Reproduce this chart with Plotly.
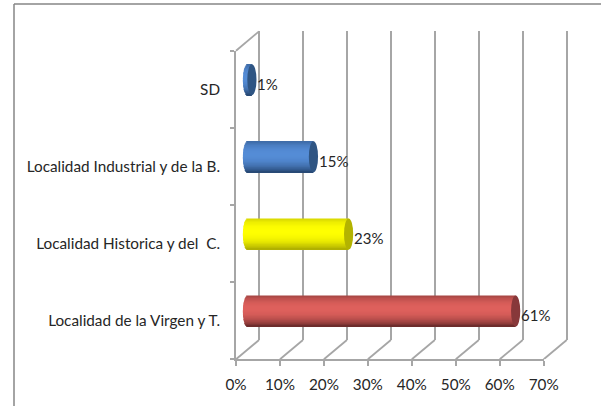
import math
import plotly.graph_objects as go

categories = ["Localidad de la Virgen y T.", "Localidad Historica y del  C.", "Localidad Industrial y de la B.", "SD"]
values = [61, 23, 15, 1]
value_labels = ["61%", "23%", "15%", "1%"]
x_ticks = [0, 10, 20, 30, 40, 50, 60, 70]
x_tick_labels = ["0%", "10%", "20%", "30%", "40%", "50%", "60%", "70%"]
# shade ramps: (dark edge, light centre, cap colour)
bar_styles = [((100, 40, 40), (222, 96, 92), "#87383a"),
              ((170, 170, 0), (255, 255, 0), "#b3b300"),
              ((36, 68, 110), (84, 140, 214), "#2f5583"),
              ((36, 68, 110), (84, 140, 214), "#2f5583")]

W, H = 601, 406
FONT = "Lato"
FS = 15.3
GREY = "#a6a6a6"
TXT = "#262626"
LW = 1.8
X0, X70, YTOP, YBOT = 236.0, 543.7, 50.7, 359.3
DX, DY = 23.0, 19.3
PX_PER_UNIT = (X70 - X0) / 70
ROW_H = (YBOT - YTOP) / 4
BAR_H = 31.0 / ROW_H
CAP_RX, STRIPS = 4.6, 24


def dom_x(a, b):
    return [a / W, b / W]


def dom_y(top, bot):
    return [1 - bot / H, 1 - top / H]


fig = go.Figure()


def mix(a, b, t):
    return "rgb(%d,%d,%d)" % tuple(round(a[i] + (b[i] - a[i]) * t) for i in range(3))


# cylinders on the mid-depth plane, drawn as thin horizontal strips for the shading
for i in range(STRIPS):
    t0 = i / STRIPS
    tc = (i + 0.5) / STRIPS
    u = 2 * tc - 1
    shade = max(0.0, 1 - (abs(tc - 0.42) / 0.58) ** 2.2)
    base = -CAP_RX * math.sqrt(max(0, 1 - u * u)) / PX_PER_UNIT
    colors = [mix(s[0], s[1], shade) for s in bar_styles]
    fig.add_trace(go.Bar(
        y=categories, x=[v - base for v in values], base=[base] * 4,
        orientation="h", xaxis="x2", yaxis="y2",
        width=BAR_H * 1.35 / STRIPS, offset=BAR_H / 2 - t0 * BAR_H - BAR_H * 1.35 / STRIPS,
        marker=dict(color=colors, line=dict(width=0)),
        showlegend=False, hoverinfo="skip",
    ))

shapes = []
# end caps, anchored to the values
for cat, v, st in zip(categories, values, bar_styles):
    shapes.append(dict(type="circle", xref="x2", yref="y2", layer="above",
                       xsizemode="pixel", ysizemode="pixel", xanchor=v, yanchor=cat,
                       x0=-CAP_RX, x1=CAP_RX, y0=-15.5, y1=15.5,
                       fillcolor=st[2], line=dict(width=0)))
# floor diagonals, on a wide hidden axis pair so they are not clipped
for t in x_ticks:
    shapes.append(dict(type="line", xref="x4", yref="y4", layer="below",
                       xsizemode="pixel", ysizemode="pixel", xanchor=t, yanchor=0,
                       x0=0, x1=DX, y0=0, y1=DY, line=dict(color=GREY, width=LW)))
# top-left wall diagonal
shapes.append(dict(type="line", xref="x4", yref="y4", layer="below",
                   xsizemode="pixel", ysizemode="pixel", xanchor=0, yanchor=4,
                   x0=0, x1=DX, y0=0, y1=DY, line=dict(color=GREY, width=LW)))
# outer chart frame
shapes.append(dict(type="line", xref="paper", yref="paper", x0=14 / W, x1=1, y0=1 - 4 / H, y1=1 - 4 / H,
                   line=dict(color="#868686", width=1.5)))
shapes.append(dict(type="line", xref="paper", yref="paper", x0=14 / W, x1=14 / W, y0=0, y1=1 - 4 / H,
                   line=dict(color="#868686", width=1.5)))

annotations = [dict(x=v, y=c, xref="x2", yref="y2", text=l, showarrow=False, xanchor="left",
                    xshift=CAP_RX - 1.5, yshift=-4, font=dict(family=FONT, size=15, color=TXT))
               for v, c, l in zip(values, categories, value_labels)]

back_pad = 1.0
fig.update_layout(
    width=W, height=H, margin=dict(l=0, r=0, t=0, b=0, autoexpand=False),
    paper_bgcolor="white", plot_bgcolor="rgba(0,0,0,0)",
    barmode="overlay", showlegend=False, shapes=shapes, annotations=annotations,
    font=dict(family=FONT, size=FS, color=TXT),
    # back wall comes first so that its gridlines sit beneath the bars
    xaxis=dict(domain=dom_x(X0 + DX - back_pad * PX_PER_UNIT, X70 + DX + back_pad * PX_PER_UNIT),
               range=[-back_pad, 70 + back_pad], tickvals=x_ticks, showticklabels=False, ticks="",
               showgrid=True, gridcolor=GREY, gridwidth=LW, zeroline=False, anchor="y"),
    yaxis=dict(domain=dom_y(YTOP - DY, YBOT - DY), range=[0, 1], visible=False, anchor="x"),
    xaxis2=dict(domain=dom_x(X0 + DX / 2 - 2 * PX_PER_UNIT, X70 + DX / 2), range=[-2, 70], visible=False, anchor="y2"),
    yaxis2=dict(domain=dom_y(YTOP - DY / 2, YBOT - DY / 2), type="category", categoryorder="array",
                categoryarray=categories, range=[-0.5, 3.5], visible=False, anchor="x2"),
    # front plane carries the visible axes
    xaxis3=dict(domain=dom_x(X0, X70), range=[0, 70], tickvals=x_ticks, ticktext=x_tick_labels,
                ticks="outside", ticklen=5, tickwidth=LW, tickcolor=GREY, showgrid=False, zeroline=False,
                showline=True, linecolor=GREY, linewidth=LW, anchor="y3", ticklabelstandoff=5),
    yaxis3=dict(domain=dom_y(YTOP, YBOT), type="category", categoryorder="array", categoryarray=categories,
                range=[-0.5, 3.5], tickson="boundaries", ticks="outside", ticklen=4, tickwidth=LW,
                tickcolor=GREY, showgrid=False, zeroline=False, showline=True, linecolor=GREY, linewidth=LW,
                anchor="x3", ticklabelstandoff=11),
    xaxis4=dict(domain=dom_x(X0 - PX_PER_UNIT, X70 + 8 * PX_PER_UNIT), range=[-1, 78], visible=False, anchor="y4"),
    yaxis4=dict(domain=dom_y(YTOP - ROW_H / 2, YBOT), range=[0, 4.5], visible=False, anchor="x4"),
)
# invisible traces keep the back-wall, front and floor axes alive
for xa, ya, yv in (("x", "y", 0), ("x3", "y3", categories[0]), ("x4", "y4", 0)):
    fig.add_trace(go.Scatter(x=[0], y=[yv], xaxis=xa, yaxis=ya, mode="markers", marker=dict(opacity=0),
                             hoverinfo="skip", showlegend=False))

fig.write_html("out.html", config={"displayModeBar": False},
               post_script="document.body.style.margin='0';document.documentElement.style.overflow='hidden';")
